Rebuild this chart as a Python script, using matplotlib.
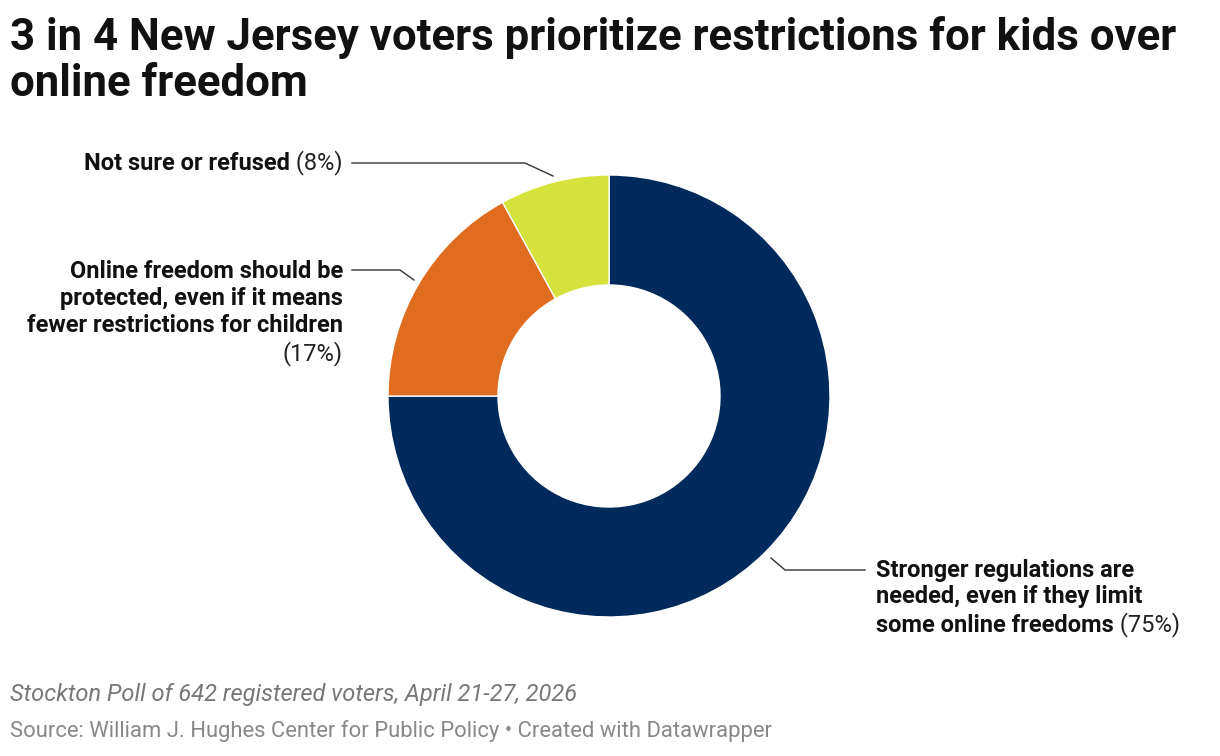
import matplotlib
matplotlib.use("Agg")
import matplotlib.pyplot as plt

categories = ["Stronger regulations are needed, even if they limit some online freedoms",
              "Online freedom should be protected, even if it means fewer restrictions for children",
              "Not sure or refused"]
values = [75, 17, 8]
colors = ["#002a5b", "#e06c1f", "#d6e23c"]

plt.rcParams['font.family'] = ['Roboto', 'DejaVu Sans']
W, H = 1220, 756
fig = plt.figure(figsize=(W/100, H/100), dpi=100)
ax = fig.add_axes([0, 0, 1, 1])
Y = lambda y: H - y

ax.pie(values, colors=colors, startangle=90, counterclock=False,
       center=(609, Y(396)), radius=221, frame=True,
       wedgeprops=dict(width=110, edgecolor='white', linewidth=1))
ax.set_xlim(0, W); ax.set_ylim(0, H); ax.axis('off'); ax.set_aspect('auto')

fig.text(10/W, 1-16/H, "3 in 4 New Jersey voters prioritize restrictions for kids over\nonline freedom",
         fontsize=31.5, fontweight='bold', va='top', ha='left', color='#111', linespacing=1.12)
fig.text(10/W, 1-694/H, "Stockton Poll of 642 registered voters, April 21-27, 2026",
         fontsize=17, style='italic', color='#777', va='center')
fig.text(10/W, 1-731/H, "Source: William J. Hughes Center for Public Policy • Created with Datawrapper",
         fontsize=15.8, color='#888', va='center')

r = fig.canvas.get_renderer()
fs = 17

def mixed(x, y, bold, reg, align):
    if align == 'left':
        t = ax.text(x, Y(y), bold, fontsize=fs, fontweight='bold', ha='left', va='center', color='#111')
        w = t.get_window_extent(r).width
        ax.text(x + w, Y(y), reg, fontsize=fs, ha='left', va='center', color='#222')
    else:
        t = ax.text(x, Y(y), reg, fontsize=fs, ha='right', va='center', color='#222')
        w = t.get_window_extent(r).width
        ax.text(x - w, Y(y), bold, fontsize=fs, fontweight='bold', ha='right', va='center', color='#111')

def boldline(x, y, s, align):
    ax.text(x, Y(y), s, fontsize=fs, fontweight='bold', ha=align, va='center', color='#111')

mixed(343, 163, "Not sure or refused", " (8%)", 'right')
ax.plot([352, 525, 553], [Y(163), Y(163), Y(176)], color='#333', lw=1)
boldline(343, 271, "Online freedom should be", 'right')
boldline(343, 298, "protected, even if it means", 'right')
boldline(343, 325, "fewer restrictions for children", 'right')
ax.text(343, Y(354), "(17%)", fontsize=fs, ha='right', va='center', color='#222')
ax.plot([352, 400, 414], [Y(270), Y(270), Y(280)], color='#333', lw=1)
boldline(876, 570, "Stronger regulations are", 'left')
boldline(876, 597, "needed, even if they limit", 'left')
mixed(876, 625, "some online freedoms", " (75%)", 'left')
ax.plot([865, 785, 771], [Y(570), Y(570), Y(558)], color='#333', lw=1)

fig.savefig("out.png", dpi=100, facecolor='white')
